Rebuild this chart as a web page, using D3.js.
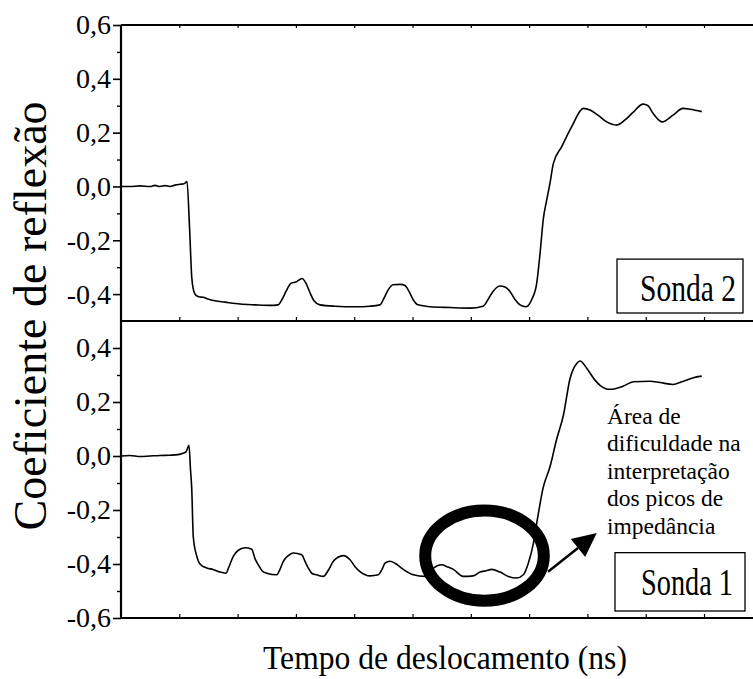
<!DOCTYPE html>
<html><head><meta charset="utf-8">
<script src="https://cdn.jsdelivr.net/npm/d3@7"></script>
<style>
html,body{margin:0;padding:0;background:#fff;}
svg{display:block;}
svg text{font-family:"Liberation Serif","Times New Roman",Times,serif;}
</style></head><body>
<svg id="chart" width="753" height="679"></svg>
<script>
// ---- data (time in axis divisions, reflection coefficient) ----
const timeTop = [0,0.154,0.326,0.497,0.583,0.669,0.755,0.840,0.926,1.012,1.081,1.132,1.175,1.213,1.244,1.286,1.338,1.407,1.492,1.612,1.784,2.041,2.298,2.556,2.693,2.762,2.830,2.916,3.002,3.105,3.173,3.242,3.310,3.413,3.671,4.014,4.271,4.443,4.511,4.580,4.666,4.786,4.871,4.940,5.009,5.094,5.300,5.643,5.986,6.209,6.295,6.381,6.501,6.587,6.672,6.758,6.844,6.947,7.045,7.130,7.187,7.244,7.302,7.358,7.415,7.559,7.731,7.930,8.045,8.182,8.331,8.503,8.645,8.782,8.954,9.040,9.125,9.280,9.468,9.640,9.760,9.961];
const sonda2 = [0,0.0,0.002,0.0,0.004,0.0,0.003,0.0,0.005,0.008,0.01,0.018,-0.15,-0.336,-0.385,-0.405,-0.41,-0.412,-0.418,-0.425,-0.43,-0.437,-0.44,-0.442,-0.44,-0.42,-0.39,-0.36,-0.355,-0.342,-0.36,-0.395,-0.425,-0.44,-0.445,-0.447,-0.445,-0.44,-0.415,-0.385,-0.365,-0.364,-0.368,-0.39,-0.42,-0.44,-0.447,-0.45,-0.452,-0.445,-0.42,-0.39,-0.37,-0.374,-0.39,-0.42,-0.44,-0.447,-0.42,-0.36,-0.25,-0.12,-0.05,0.012,0.085,0.148,0.222,0.29,0.284,0.265,0.24,0.228,0.247,0.275,0.306,0.30,0.272,0.24,0.265,0.29,0.287,0.278];
const timeBottom = [0,0.154,0.326,0.497,0.669,0.840,0.978,1.063,1.115,1.166,1.192,1.213,1.240,1.298,1.355,1.470,1.578,1.698,1.801,1.852,1.926,2.007,2.127,2.242,2.298,2.355,2.419,2.499,2.671,2.727,2.784,2.864,2.955,3.100,3.156,3.213,3.276,3.357,3.470,3.551,3.642,3.722,3.813,3.928,4.014,4.099,4.271,4.413,4.477,4.528,4.614,4.700,4.842,5.014,5.214,5.357,5.501,5.592,5.700,5.871,6.043,6.158,6.261,6.358,6.501,6.643,6.787,6.901,6.986,7.067,7.153,7.238,7.358,7.473,7.587,7.702,7.816,7.873,7.988,8.130,8.216,8.388,8.616,8.787,9.074,9.245,9.473,9.617,9.817,9.961];
const sonda1 = [0,0.002,-0.002,0.0,0.002,0.003,0.005,0.01,0.015,0.04,-0.05,-0.12,-0.30,-0.37,-0.40,-0.415,-0.42,-0.43,-0.434,-0.41,-0.372,-0.35,-0.34,-0.345,-0.38,-0.403,-0.425,-0.434,-0.44,-0.42,-0.39,-0.37,-0.359,-0.366,-0.39,-0.415,-0.435,-0.44,-0.446,-0.425,-0.39,-0.375,-0.369,-0.384,-0.41,-0.428,-0.444,-0.44,-0.42,-0.397,-0.39,-0.397,-0.42,-0.44,-0.446,-0.415,-0.403,-0.41,-0.42,-0.446,-0.444,-0.43,-0.425,-0.42,-0.43,-0.446,-0.452,-0.44,-0.397,-0.33,-0.22,-0.12,-0.04,0.063,0.15,0.287,0.343,0.352,0.325,0.281,0.262,0.247,0.259,0.275,0.277,0.272,0.265,0.275,0.29,0.296];
const yMajorTop = [0.6,0.4,0.2,0.0,-0.2,-0.4];
const yMinorTop = [0.5,0.3,0.1,-0.1,-0.3];
const yMajorBottom = [0.4,0.2,0.0,-0.2,-0.4,-0.6];
const yMinorBottom = [0.3,0.1,-0.1,-0.3,-0.5];
const xTicks = [1,2,3,4,5,6,7,8,9,10];
const panelLabels = ["Sonda 2","Sonda 1"];
const annotationLines = ["Área de","dificuldade na","interpretação","dos picos de","impedância"];
const xTitle = "Tempo de deslocamento (ns)";
const yTitle = "Coeficiente de reflexão";
const ellipseCenter = [6.235,-0.369];
const arrowFrom = [7.324,-0.429];
const arrowTo = [8.16,-0.285];

// ---- layout ----
const svg = d3.select("#chart");
const L = 121, R = 753, T = 25, M = 321, B = 618;
const x = d3.scaleLinear().domain([0,10.84]).range([L,R]);
const yTop = d3.scaleLinear().domain([-0.5,0.6]).range([M,T]);
const yBot = d3.scaleLinear().domain([-0.6,0.5]).range([B,M]);
const loc = d3.formatLocale({decimal:",",thousands:".",grouping:[3],currency:["",""],minus:"-"});
const fmt = loc.format(".1f");
const FONT = '"Liberation Serif","Times New Roman",Times,serif';

function yAxis(scale, major, minor){
  const gMaj = svg.append("g").attr("transform",`translate(${L},0)`)
    .call(d3.axisLeft(scale).tickValues(major).tickSize(8).tickPadding(2).tickFormat(fmt));
  gMaj.attr("font-family",FONT);
  gMaj.select(".domain").remove();
  gMaj.selectAll("line").attr("stroke","#000").attr("stroke-width",1.6);
  gMaj.selectAll("text").attr("font-size",28).attr("fill","#000");
  const gMin = svg.append("g").attr("transform",`translate(${L},0)`)
    .call(d3.axisLeft(scale).tickValues(minor).tickSize(4).tickFormat(""));
  gMin.select(".domain").remove();
  gMin.selectAll("line").attr("stroke","#000").attr("stroke-width",1.4);
}
yAxis(yTop, yMajorTop, yMinorTop);
yAxis(yBot, yMajorBottom, yMinorBottom);

function xAxis(y, gen, size){
  const g = svg.append("g").attr("transform",`translate(0,${y})`)
    .call(gen(x).tickValues(xTicks).tickSize(size).tickFormat(""));
  g.select(".domain").remove();
  g.selectAll("line").attr("stroke","#000").attr("stroke-width",1.2);
}
xAxis(T, d3.axisTop, -3);
xAxis(M, d3.axisBottom, -4);
xAxis(B, d3.axisBottom, -4);

// frame lines
[[L,T,R,T],[L,M,R,M],[L,B,R,B],[L,T,L,B]].forEach(([x1,y1,x2,y2])=>{
  svg.append("line").attr("x1",x1).attr("y1",y1).attr("x2",x2).attr("y2",y2)
    .attr("stroke","#000").attr("stroke-width",2.2);
});

// curves
const lineTop = d3.line().x((d,i)=>x(timeTop[i])).y(d=>yTop(d)).curve(d3.curveMonotoneX);
const lineBot = d3.line().x((d,i)=>x(timeBottom[i])).y(d=>yBot(d)).curve(d3.curveMonotoneX);
svg.append("path").attr("d",lineTop(sonda2)).attr("fill","none").attr("stroke","#000").attr("stroke-width",1.6);
svg.append("path").attr("d",lineBot(sonda1)).attr("fill","none").attr("stroke","#000").attr("stroke-width",1.6);

// condensed text helper: horizontally scale text to a target width
function condensedText(s, tx, ty, fs, width, anchor){
  const t = svg.append("text").attr("font-size",fs).attr("fill","#000").text(s);
  const w = t.node().getComputedTextLength();
  const k = Math.min(1, width / w);
  const x0 = anchor === "middle" ? tx - width/2 : tx;
  t.attr("transform",`translate(${x0},${ty}) scale(${k},1)`);
  return t;
}

// panel label boxes
function labelBox(text, bx1, by1, bx2, by2, tx, ty, tlen){
  svg.append("rect").attr("x",bx1).attr("y",by1).attr("width",bx2-bx1).attr("height",by2-by1)
    .attr("fill","#fff").attr("stroke","#000").attr("stroke-width",1.3);
  condensedText(text, tx, ty, 37, tlen);
}
labelBox(panelLabels[0], 617, yTop(-0.27), 743, M-8, 640, yTop(-0.27)+42, 96);
labelBox(panelLabels[1], 615, yBot(-0.358), 745, B-7, 641, yBot(-0.358)+42, 92);

// annotation ellipse + arrow
const cx = x(ellipseCenter[0]), cy = yBot(ellipseCenter[1]);
svg.append("ellipse").attr("cx",cx).attr("cy",cy).attr("rx",x(1.017)-x(0)).attr("ry",yBot(0)-yBot(0.167))
  .attr("fill","none").attr("stroke","#000").attr("stroke-width",12);
const ax1 = x(arrowFrom[0]), ay1 = yBot(arrowFrom[1]), ax2 = x(arrowTo[0]), ay2 = yBot(arrowTo[1]);
const ang = Math.atan2(ay2-ay1, ax2-ax1), hl = 24, hw = 11.5;
const bxm = ax2 - hl*Math.cos(ang), bym = ay2 - hl*Math.sin(ang);
svg.append("line").attr("x1",ax1).attr("y1",ay1).attr("x2",bxm).attr("y2",bym).attr("stroke","#000").attr("stroke-width",2.5);
svg.append("polygon").attr("points",[
  [ax2,ay2],
  [bxm + hw*Math.sin(ang), bym - hw*Math.cos(ang)],
  [bxm - hw*Math.sin(ang), bym + hw*Math.cos(ang)]
].map(p=>p.join(",")).join(" ")).attr("fill","#000");

// annotation text
const annX = x(8.336), annY0 = yBot(0.119);
annotationLines.forEach((s,i)=>{
  svg.append("text").attr("x",annX).attr("y",annY0+i*27.5).attr("font-size",23.5).attr("fill","#000").text(s);
});

// titles
condensedText(xTitle, 445, 669, 34, 364, "middle");
svg.append("text").attr("transform","translate(46,316) rotate(-90)").attr("text-anchor","middle")
  .attr("font-size",46).attr("fill","#000").text(yTitle);
</script>
</body></html>
